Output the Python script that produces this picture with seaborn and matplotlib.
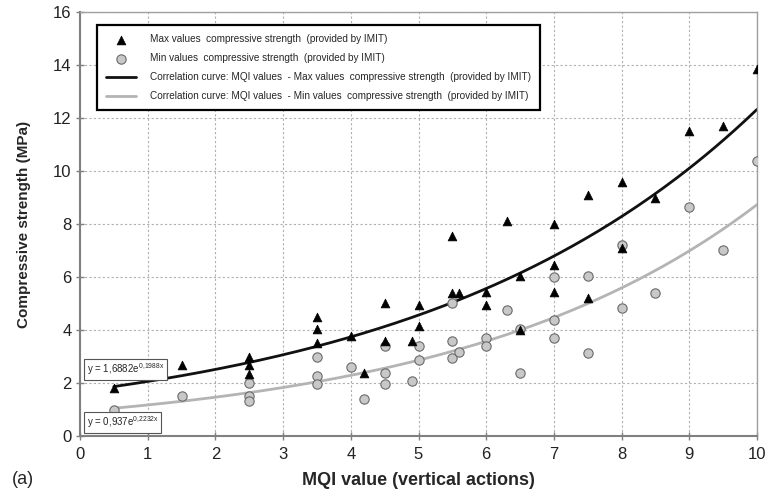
import numpy as np
import pandas as pd
import matplotlib
matplotlib.use("Agg")
import matplotlib.pyplot as plt
import seaborn as sns

# ---- data ----
max_x = [0.5, 1.5, 2.5, 2.5, 2.5, 3.5, 3.5, 3.5, 4.0, 4.2, 4.5, 4.5, 4.9, 5.0, 5.0,
         5.5, 5.5, 5.6, 6.0, 6.0, 6.3, 6.5, 6.5, 7.0, 7.0, 7.0, 7.5, 7.5, 8.0, 8.0,
         8.5, 9.0, 9.5, 10.0]
max_y = [1.8, 2.69, 2.99, 2.69, 2.34, 4.48, 4.04, 3.5, 3.79, 2.37, 5.03, 3.6, 3.6, 4.93, 4.16,
         7.55, 5.38, 5.38, 5.42, 4.94, 8.11, 6.05, 4.0, 8.0, 6.44, 5.43, 9.08, 5.2, 9.6, 7.08,
         9.0, 11.51, 11.7, 13.84]
min_x = [0.5, 1.5, 2.5, 2.5, 2.5, 3.5, 3.5, 3.5, 4.0, 4.2, 4.5, 4.5, 4.5, 4.9, 5.0, 5.0,
         5.5, 5.5, 5.5, 5.6, 6.0, 6.0, 6.3, 6.5, 6.5, 7.0, 7.0, 7.0, 7.5, 7.5, 8.0, 8.0,
         8.5, 9.0, 9.5, 10.0]
min_y = [1.0, 1.51, 2.0, 1.51, 1.32, 3.0, 2.25, 1.95, 2.6, 1.41, 3.4, 2.39, 1.95, 2.09, 3.41, 2.86,
         5.03, 3.6, 2.93, 3.17, 3.71, 3.41, 4.74, 4.05, 2.39, 6.01, 4.39, 3.71, 6.05, 3.12, 7.22, 4.83,
         5.41, 8.65, 7.03, 10.39]

# exponential fit coefficients shown on the chart
max_a, max_b = 1.6882, 0.1988
min_a, min_b = 0.937, 0.2232
fit_x_range = (0.5, 10.0)

x_ticks = list(range(0, 11))
y_ticks = list(range(0, 17, 2))

lab_max = "Max values  compressive strength  (provided by IMIT)"
lab_min = "Min values  compressive strength  (provided by IMIT)"
lab_cmax = "Correlation curve: MQI values  - Max values  compressive strength  (provided by IMIT)"
lab_cmin = "Correlation curve: MQI values  - Min values  compressive strength  (provided by IMIT)"

sns.set_style("white")
plt.rcParams['font.family'] = ['Liberation Sans', 'DejaVu Sans']
plt.rcParams['mathtext.default'] = 'regular'

fig = plt.figure(figsize=(7.7, 4.99), dpi=100)
ax = fig.add_axes([80/770, 1-436/499, 677/770, 424/499])

df_max = pd.DataFrame({"x": max_x, "y": max_y})
df_min = pd.DataFrame({"x": min_x, "y": min_y})
xf = np.linspace(fit_x_range[0], fit_x_range[1], 200)
df_cmax = pd.DataFrame({"x": xf, "y": max_a*np.exp(max_b*xf)})
df_cmin = pd.DataFrame({"x": xf, "y": min_a*np.exp(min_b*xf)})

sns.lineplot(data=df_cmin, x="x", y="y", ax=ax, color="#b4b4b4", lw=2.0, label=lab_cmin, zorder=2)
sns.lineplot(data=df_cmax, x="x", y="y", ax=ax, color="#111111", lw=2.0, label=lab_cmax, zorder=2)
sns.scatterplot(data=df_min, x="x", y="y", ax=ax, marker="o", s=45, color="#c8c8c8",
                edgecolor="#6a6a6a", linewidth=0.8, label=lab_min, zorder=3)
sns.scatterplot(data=df_max, x="x", y="y", ax=ax, marker="^", s=40, color="#000000",
                edgecolor="#000000", linewidth=0.5, label=lab_max, zorder=4)

ax.set_xlim(0, 10)
ax.set_ylim(0, 16)
ax.set_xticks(x_ticks)
ax.set_yticks(y_ticks)
ax.grid(True, color="#b0b0b0", linestyle=(0, (2, 2)), linewidth=0.8)
for side in ["top", "right"]:
    ax.spines[side].set_color("#a0a0a0")
    ax.spines[side].set_linewidth(1.0)
for side in ["left", "bottom"]:
    ax.spines[side].set_color("#808080")
    ax.spines[side].set_linewidth(1.5)
ax.tick_params(axis="both", direction="inout", length=6, width=1, color="#808080",
               labelsize=12, pad=3, left=True, bottom=True, labelcolor="#222222")
ax.tick_params(axis="x", pad=5)

ax.set_xlabel("MQI value (vertical actions)", fontsize=13, fontweight="bold", labelpad=7)
ax.set_ylabel("Compressive strength (MPa)", fontsize=11, fontweight="bold", labelpad=16)
fig.text(12/770, 1-479/499, "(a)", fontsize=13, va="center", ha="left")

handles, labels = ax.get_legend_handles_labels()
order = [labels.index(l) for l in [lab_max, lab_min, lab_cmax, lab_cmin]]
leg = ax.legend([handles[i] for i in order], [labels[i] for i in order],
                loc="upper left", bbox_to_anchor=(0.025, 0.969), borderaxespad=0,
                fontsize=7.2, frameon=True, fancybox=False, edgecolor="#000000", framealpha=1,
                handlelength=3.0, labelspacing=0.9, borderpad=0.9, handletextpad=1.4)
leg.get_frame().set_linewidth(1.6)

bbox = dict(boxstyle="square,pad=0.25", fc="white", ec="#555555", lw=0.8)
ax.text(0.1, 2.51, r"y = 1,6882e$^{0{,}1988x}$", fontsize=7, ha="left", va="center", bbox=bbox, zorder=5)
ax.text(0.1, 0.51, r"y = 0,937e$^{0{,}2232x}$", fontsize=7, ha="left", va="center", bbox=bbox, zorder=5)

fig.savefig("out.png", dpi=100)
